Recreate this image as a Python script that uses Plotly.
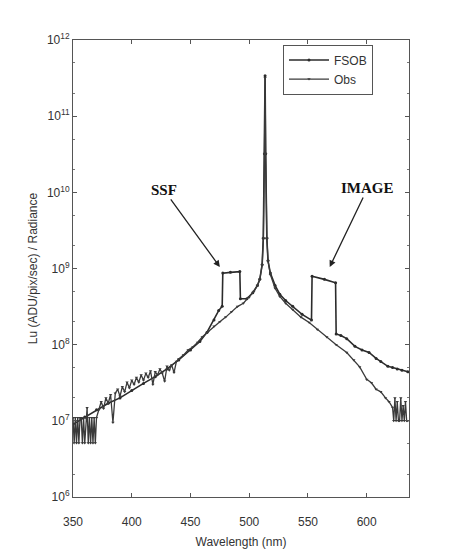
import plotly.graph_objects as go

# ---- data ----
fsob_wl = [350, 360, 370, 380, 390, 400, 410, 420, 430, 440, 450, 458, 464, 470, 474, 477,
           477.5, 484, 492, 492.5, 498, 503, 507, 509, 511, 512, 513, 513.5, 514, 515, 516,
           518, 522, 526, 531, 537, 545, 553, 553.5, 564, 573.5, 574, 578, 583, 590, 596,
           602, 608, 612, 618, 622, 626, 630, 635]
fsob_val = [9.0e6, 1.12e7, 1.4e7, 1.7e7, 2.0e7, 2.5e7, 3.1e7, 3.8e7, 4.8e7, 6.3e7, 8.5e7,
            1.1e8, 1.45e8, 2.1e8, 2.8e8, 3.2e8,
            8.7e8, 8.9e8, 9.1e8, 4.0e8, 4.0e8, 4.8e8, 6.0e8, 7.2e8, 1.12e9, 2.5e9, 3.2e10,
            3.4e11, 3.2e10, 2.5e9, 1.26e9,
            8.7e8, 6.0e8, 4.6e8, 3.8e8, 3.2e8, 2.5e8, 2.1e8, 7.9e8, 7.2e8, 6.5e8, 1.38e8,
            1.32e8, 1.2e8, 9.5e7, 8.5e7,
            7.9e7, 6.6e7, 6.0e7, 5.2e7, 5.0e7, 4.8e7, 4.6e7, 4.4e7]

obs_wl = [350, 351, 352, 353, 354, 355, 356, 357, 358, 359, 360, 361, 362, 363, 364, 365,
          366, 367, 368, 369, 370, 372, 374, 376, 378, 380, 382, 384, 386, 388, 390, 392,
          394, 396, 398, 400, 402, 404, 406, 408, 410, 412, 414, 416, 418, 420, 422, 424,
          426, 428, 430, 432, 434, 436, 438, 440, 444, 448, 452, 456, 460, 465, 470, 475,
          480, 485, 490, 495, 500, 504, 507, 509, 511, 512, 513, 513.5, 514, 515, 516, 518,
          522, 526, 531, 537, 544, 551, 558, 566, 574, 583, 589, 594, 600, 604, 608, 612,
          616, 619, 622, 623, 624, 625, 626, 627, 628, 629, 630, 631, 632, 633, 634, 635]
obs_val = [1.1e7, 5.1e6, 1.1e7, 5.1e6, 1.1e7, 5.1e6, 1.1e7, 1.1e7, 5.1e6, 1.1e7, 5.1e6,
           1.1e7, 1.48e7, 5.1e6, 1.1e7, 5.1e6,
           1.1e7, 5.1e6, 1.1e7, 5.1e6, 1.1e7, 1.4e7, 1.78e7, 1.45e7, 2.0e7, 1.7e7, 2.2e7,
           9.5e6, 2.3e7, 2.6e7, 2.1e7, 2.8e7,
           2.4e7, 3.2e7, 2.7e7, 3.4e7, 3.0e7, 3.7e7, 3.2e7, 4.0e7, 3.4e7, 4.2e7, 3.7e7,
           4.5e7, 3.0e7, 4.4e7, 4.0e7, 4.8e7,
           4.2e7, 3.3e7, 5.2e7, 4.6e7, 5.4e7, 4.3e7, 6.0e7, 6.5e7, 7.3e7, 8.5e7, 9.3e7,
           1.07e8, 1.26e8, 1.48e8, 1.74e8, 2.0e8,
           2.3e8, 2.7e8, 3.16e8, 3.5e8, 4.2e8, 5.0e8, 6.0e8, 7.2e8, 1.12e9, 2.5e9, 3.2e10,
           3.2e11, 3.2e10, 2.5e9, 1.26e9, 8.3e8,
           5.5e8, 4.3e8, 3.5e8, 2.9e8, 2.3e8, 1.95e8, 1.58e8, 1.26e8, 1.0e8, 7.9e7, 6.3e7,
           5.1e7, 3.5e7, 3.16e7, 2.6e7, 2.4e7,
           2.0e7, 1.78e7, 1.5e7, 1.0e7, 2.0e7, 1.0e7, 1.78e7, 1.0e7, 1.0e7, 2.0e7, 1.0e7,
           1.58e7, 1.0e7, 1.78e7, 1.0e7, 1.0e7]

x_ticks = [350, 400, 450, 500, 550, 600]
y_tickvals = [1e6, 1e7, 1e8, 1e9, 1e10, 1e11, 1e12]
y_ticktext = ["10<sup>6</sup>", "10<sup>7</sup>", "10<sup>8</sup>", "10<sup>9</sup>",
              "10<sup>10</sup>", "10<sup>11</sup>", "10<sup>12</sup>"]

ink = "#2b2b2b"
fig = go.Figure()
fig.add_trace(go.Scatter(x=fsob_wl, y=fsob_val, name="FSOB", mode="lines+markers",
                         line=dict(color=ink, width=1.6),
                         marker=dict(symbol="circle", size=3, color=ink)))
fig.add_trace(go.Scatter(x=obs_wl, y=obs_val, name="Obs", mode="lines+markers",
                         line=dict(color="#3a3a3a", width=1.3),
                         marker=dict(symbol="triangle-down", size=3, color="#3a3a3a")))

axis_common = dict(showline=True, linecolor="#555", linewidth=1, mirror="ticks",
                   ticks="inside", ticklen=4, tickcolor="#555", showgrid=False,
                   zeroline=False, automargin=False,
                   tickfont=dict(family="Liberation Sans", size=12, color="#333"))

fig.update_layout(
    width=454, height=554,
    margin=dict(l=65, r=53, t=32, b=65),
    paper_bgcolor="white", plot_bgcolor="white",
    font=dict(family="Liberation Sans", size=12, color="#333"),
    showlegend=True,
    legend=dict(x=0.625, y=0.99, xanchor="left", yanchor="top",
                bgcolor="white", bordercolor="#555", borderwidth=1,
                font=dict(size=12, color="#333"), tracegroupgap=0,
                itemwidth=40),
    xaxis=dict(range=[350, 636], tickvals=x_ticks, ticklabelstandoff=14,
               title=dict(text="Wavelength (nm)", standoff=9, font=dict(size=12, color="#333")),
               **axis_common),
    yaxis=dict(type="log", range=[6, 12], tickvals=y_tickvals, ticktext=y_ticktext,
               title=dict(text="Lu (ADU/pix/sec) / Radiance", standoff=6,
                          font=dict(size=12, color="#333")),
               minor=dict(ticks="inside", ticklen=2, tickcolor="#777", showgrid=False),
               **axis_common),
)

fig.add_annotation(x=475, y=9.02, xref="x", yref="y", text="<b>SSF</b>",
                   showarrow=True, ax=-56, ay=-77, arrowhead=2, arrowsize=1,
                   arrowwidth=1.3, arrowcolor="#222",
                   font=dict(family="Liberation Serif", size=15, color="#111"))
fig.add_annotation(x=568.5, y=9.02, xref="x", yref="y", text="<b>IMAGE</b>",
                   showarrow=True, ax=38, ay=-79, arrowhead=2, arrowsize=1,
                   arrowwidth=1.3, arrowcolor="#222",
                   font=dict(family="Liberation Serif", size=15, color="#111"))

fig.write_html("out.html")
